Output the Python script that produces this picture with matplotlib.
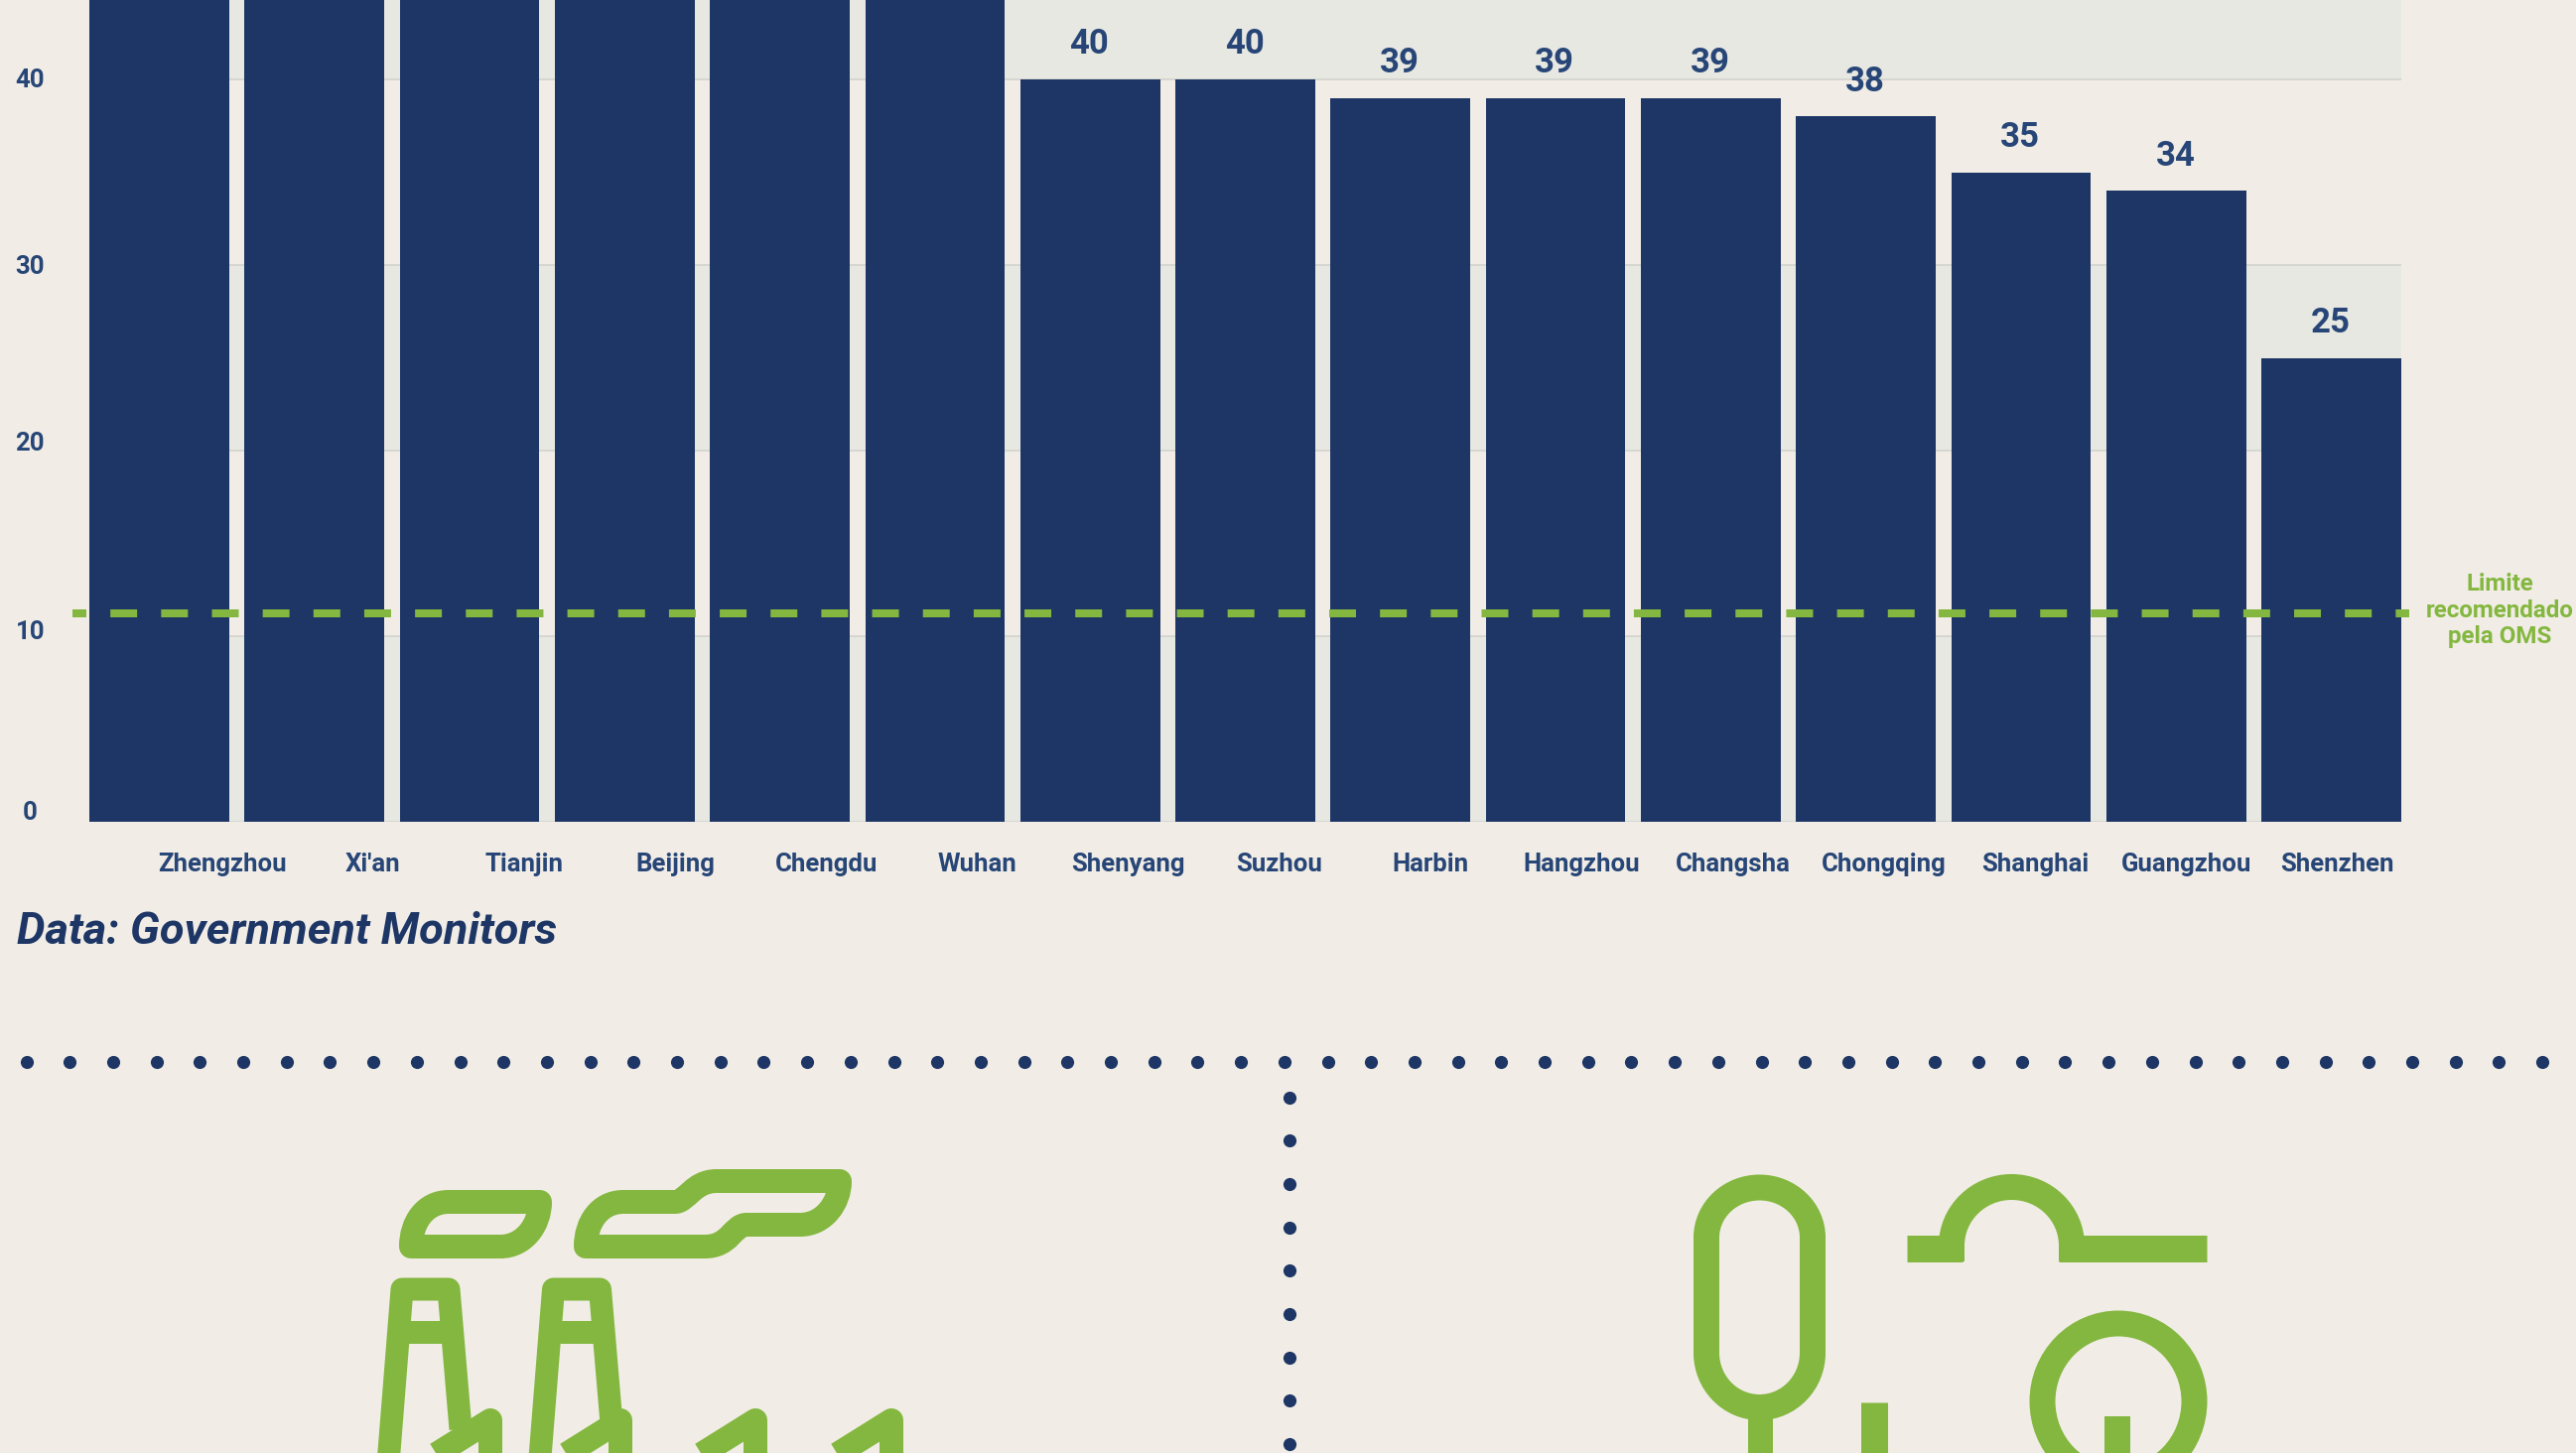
import matplotlib
matplotlib.use("Agg")
import matplotlib.pyplot as plt
import numpy as np
from matplotlib.path import Path
from matplotlib.patches import PathPatch, Ellipse
from matplotlib.transforms import ScaledTranslation

# ---------- data ----------
cities = ["Zhengzhou", "Xi'an", "Tianjin", "Beijing", "Chengdu", "Wuhan", "Shenyang", "Suzhou",
          "Harbin", "Hangzhou", "Changsha", "Chongqing", "Shanghai", "Guangzhou", "Shenzhen"]
# the first six bars run off the top of the picture: their values are estimates
pm25 = [56, 54, 51, 51, 49, 47, 40, 40, 39, 39, 39, 38, 35, 34, 25]
y_ticks = [0, 10, 20, 30, 40]
who_limit = 11.25
who_label = "Limite\nrecomendado\npela OMS"
source = "Data: Government Monitors"

# ---------- style ----------
BG = "#f1ede6"
BAND = "#e8e8e3"
GRID = "#d3d3cd"
NAVY = "#1d3665"
LABEL = "#274677"
GREEN = "#84b73f"
FONT = "Roboto"
W, H = 2595, 1464
PX = 72 / 100

plt.rcParams["font.family"] = [FONT, "DejaVu Sans"]
fig = plt.figure(figsize=(W / 100, H / 100), dpi=100, facecolor=BG)

# ---------- decoration layer, in pixels ----------
deco = fig.add_axes([0, 0, 1, 1], zorder=0)
deco.set_xlim(0, W)
deco.set_ylim(H, 0)
deco.axis("off")

M, L, C, Z = Path.MOVETO, Path.LINETO, Path.CURVE4, Path.CLOSEPOLY


def stroke(verts, codes=None, lw=22, closed=False, cap="butt", join="round"):
    verts = list(verts)
    if codes is None:
        codes = [M] + [L] * (len(verts) - 1)
    if closed:
        verts.append(verts[0])
        codes = list(codes) + [Z]
    deco.add_patch(PathPatch(Path(verts, codes), fc="none", ec=GREEN, lw=lw * PX,
                             capstyle=cap, joinstyle=join))


# clouds
stroke([(414, 1256), (414, 1232), (428, 1211), (452, 1211), (544, 1211),
        (544, 1234), (528, 1256), (504, 1256)],
       [M, C, C, C, L, C, C, C], lw=24, closed=True)
stroke([(590, 1256), (590, 1232), (604, 1211), (628, 1211), (680, 1211),
        (692, 1211), (698, 1190), (722, 1190), (846, 1190),
        (846, 1212), (830, 1234), (806, 1234), (752, 1234),
        (738, 1234), (736, 1256), (710, 1256)],
       [M, C, C, C, L, C, C, C, L, C, C, C, L, C, C, C], lw=24, closed=True)
# chimneys
for shift in (0, 152.5):
    stroke([(389 + shift, 1500), (405 + shift, 1299), (452 + shift, 1299), (464 + shift, 1440)], lw=23)
    stroke([(405 + shift, 1342), (455 + shift, 1342)], lw=23)
# saw-tooth roof
for x_peak in (494, 625, 761, 898):
    stroke([(x_peak - 120, 1506), (x_peak, 1431), (x_peak, 1500)], lw=24)

# plant: tank on the left
k = 0.5523
stroke([(1719, 1247), (1719, 1247 - 50.5 * k), (1772.5 - 53.5 * k, 1196.5), (1772.5, 1196.5),
        (1772.5 + 53.5 * k, 1196.5), (1826, 1247 - 50.5 * k), (1826, 1247),
        (1826, 1363), (1826, 1363 + 55 * k), (1772.5 + 53.5 * k, 1418), (1772.5, 1418),
        (1772.5 - 53.5 * k, 1418), (1719, 1363 + 55 * k), (1719, 1363)],
       [M, C, C, C, C, C, C, L, C, C, C, C, C, C], lw=26, closed=True)
stroke([(1772.5, 1418), (1772.5, 1480)], lw=25)
stroke([(1887.5, 1413), (1887.5, 1480)], lw=27)
# pipe with hump
stroke([(1921, 1257.5), (1977, 1257.5)], lw=27)
stroke([(2074, 1257.5), (2223, 1257.5)], lw=27)
stroke([(1966, 1271), (1966, 1255), (1966, 1196 + 59 * (1 - k)), (2026.5 - 60.5 * k, 1196), (2026.5, 1196),
        (2026.5 + 60.5 * k, 1196), (2087, 1196 + 59 * (1 - k)), (2087, 1255), (2087, 1271)],
       [M, L, C, C, C, C, C, C, L], lw=26)
# wheel
deco.add_patch(Ellipse((2134, 1412), 153, 157, fc="none", ec=GREEN, lw=26 * PX))
stroke([(2133, 1427), (2133, 1480)], lw=26)

# dotted separators
h_x = 26.5 + 43.7 * np.arange(59)
deco.scatter(h_x, np.full_like(h_x, 1070.0), s=90, color=NAVY, linewidths=0)
v_y = 1105.5 + 43.7 * np.arange(9)
deco.scatter(np.full_like(v_y, 1299.0), v_y, s=90, color=NAVY, linewidths=0)

fig.text(17 / W, 1 - 939 / H, source, fontsize=32.5, fontstyle="italic", fontweight="bold",
         color=NAVY, ha="left", va="center")

# ---------- chart ----------
left, right, base = 90, 2419, 828
ax = fig.add_axes([left / W, 1 - base / H, (right - left) / W, base / H], zorder=1)
ax.patch.set_alpha(0)
x = np.arange(len(cities))
ax.set_xlim(-0.45, len(cities) - 1 + 0.45)
ax.set_ylim(0, base / 18.7)
for s in ax.spines.values():
    s.set_visible(False)

for lo in (0, 20, 40):
    ax.axhspan(lo, lo + 10, color=BAND, lw=0, zorder=0)
for v in y_ticks:
    ax.axhline(v, color=GRID, lw=1.2, zorder=1)

ax.bar(x, pm25, width=0.9, color=NAVY, zorder=2)

top = ax.get_ylim()[1]
for xi, v in zip(x, pm25):
    if v < top:
        ax.annotate(str(v), (xi, v), xytext=(-1 * PX, 35 * PX), textcoords="offset points",
                    ha="center", va="center", fontsize=25, fontweight="bold", color=LABEL, zorder=4)

# dash pattern and offset are multiples of the line width
ax.plot([-0.556, 14.50], [who_limit, who_limit], color=GREEN, lw=8 * PX, clip_on=False, zorder=3,
        linestyle=(1.625, (3.375, 3.02)), dash_capstyle="butt")

ax.text(2518 / W, 1 - 615 / H, who_label, transform=fig.transFigure, fontsize=17.4, fontweight="bold",
        color=GREEN, ha="center", va="center", linespacing=1.2, clip_on=False)

# category labels are spread a little tighter than the bars
ax.set_xticks(0.405 + x * 0.9737)
ax.set_xticklabels(cities, fontsize=18.5, fontweight="bold", color=LABEL)
ax.tick_params(axis="x", length=0, pad=22)

ax.set_yticks(y_ticks)
ax.set_yticklabels([str(v) for v in y_ticks], fontsize=18.5, fontweight="bold", color=LABEL, ha="center")
ax.tick_params(axis="y", length=0, pad=43)
for lab, up in zip(ax.get_yticklabels(), (12, 7, 9, 0, 2)):
    lab.set_transform(lab.get_transform() + ScaledTranslation(0, up / 100, fig.dpi_scale_trans))

fig.savefig("out.png", dpi=100, facecolor=BG)
